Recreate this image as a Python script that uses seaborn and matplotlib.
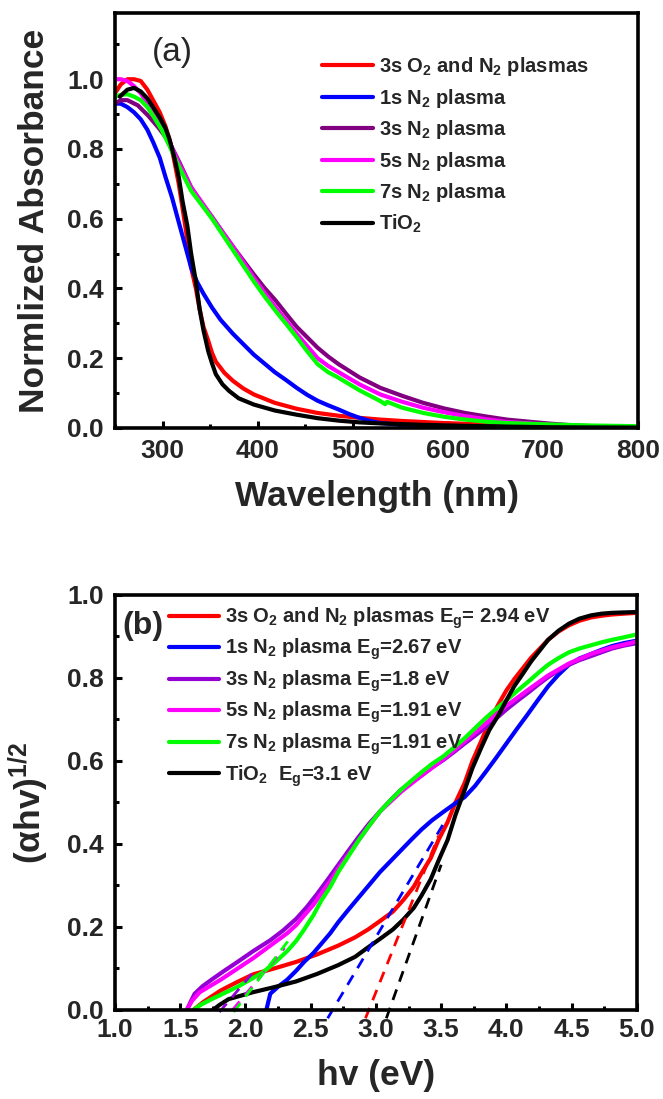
import numpy as np
import pandas as pd
import matplotlib
matplotlib.use("Agg")
import matplotlib.pyplot as plt
from matplotlib.ticker import MultipleLocator, FormatStrFormatter
import seaborn as sns

# ---------------- data: panel (a) ----------------
labels_a = ["3s O$_2$ and N$_2$ plasmas", "1s N$_2$ plasma", "3s N$_2$ plasma",
            "5s N$_2$ plasma", "7s N$_2$ plasma", "TiO$_2$"]
colors_a = ["#FF0000", "#0000FF", "#800080", "#FF00FF", "#00FF00", "#000000"]

red_a_x = [250, 256, 263, 270, 277, 284, 290, 297, 303, 308, 312, 317, 321, 326, 330, 335, 339, 343, 348, 352, 356, 365, 374, 385, 396, 418, 441, 463, 485, 507, 529, 552, 574, 596, 618, 640, 662, 685, 707, 751, 795, 800]
red_a_y = [0.96, 0.985, 1.0, 1.0, 0.995, 0.97, 0.94, 0.905, 0.865, 0.82, 0.77, 0.70, 0.63, 0.54, 0.46, 0.40, 0.34, 0.29, 0.25, 0.215, 0.19, 0.158, 0.135, 0.113, 0.096, 0.072, 0.055, 0.043, 0.035, 0.029, 0.024, 0.020, 0.017, 0.014, 0.012, 0.010, 0.008, 0.006, 0.005, 0.003, 0.002, 0.002]

blue_a_x = [250, 256, 263, 270, 277, 284, 290, 297, 303, 310, 316, 323, 330, 336, 343, 352, 361, 374, 385, 396, 407, 418, 430, 441, 452, 463, 474, 485, 496, 507, 518, 529, 552, 574, 596, 618, 662, 707, 751, 800]
blue_a_y = [0.93, 0.93, 0.92, 0.905, 0.885, 0.855, 0.82, 0.775, 0.72, 0.66, 0.60, 0.53, 0.46, 0.42, 0.385, 0.345, 0.31, 0.27, 0.24, 0.21, 0.185, 0.16, 0.137, 0.115, 0.095, 0.078, 0.065, 0.053, 0.04, 0.029, 0.02, 0.014, 0.009, 0.007, 0.005, 0.004, 0.003, 0.002, 0.001, 0.001]

purple_a_x = [250, 256, 263, 274, 285, 296, 307, 318, 330, 341, 352, 363, 374, 385, 396, 407, 419, 430, 441, 452, 463, 474, 485, 507, 529, 552, 574, 596, 618, 640, 662, 685, 707, 729, 751, 773, 795, 800]
purple_a_y = [0.93, 0.94, 0.94, 0.925, 0.895, 0.86, 0.82, 0.76, 0.69, 0.645, 0.605, 0.562, 0.52, 0.48, 0.44, 0.402, 0.365, 0.327, 0.29, 0.26, 0.23, 0.205, 0.183, 0.145, 0.115, 0.092, 0.072, 0.056, 0.043, 0.033, 0.024, 0.018, 0.0125, 0.008, 0.005, 0.003, 0.001, 0.001]

magenta_a_x = [250, 256, 263, 270, 277, 284, 290, 299, 307, 318, 330, 341, 352, 363, 374, 385, 396, 407, 419, 430, 441, 452, 463, 474, 485, 507, 529, 552, 574, 596, 618, 640, 662, 707, 751, 800]
magenta_a_y = [1.0, 1.0, 0.995, 0.98, 0.96, 0.93, 0.90, 0.86, 0.82, 0.755, 0.69, 0.648, 0.605, 0.562, 0.52, 0.475, 0.43, 0.388, 0.345, 0.308, 0.27, 0.235, 0.20, 0.178, 0.16, 0.125, 0.096, 0.075, 0.058, 0.045, 0.034, 0.025, 0.017, 0.009, 0.004, 0.002]

green_a_x = [250, 256, 263, 270, 277, 284, 290, 299, 307, 318, 330, 341, 352, 363, 374, 385, 396, 407, 419, 430, 441, 452, 463, 474, 485, 507, 529, 534, 536, 552, 574, 596, 618, 640, 662, 707, 751, 800]
green_a_y = [0.95, 0.955, 0.957, 0.95, 0.94, 0.92, 0.895, 0.855, 0.81, 0.745, 0.68, 0.64, 0.60, 0.555, 0.51, 0.465, 0.42, 0.378, 0.335, 0.298, 0.26, 0.22, 0.183, 0.16, 0.144, 0.108, 0.077, 0.068, 0.075, 0.058, 0.043, 0.032, 0.024, 0.018, 0.014, 0.010, 0.007, 0.005]

black_a_x = [255, 263, 270, 277, 284, 290, 297, 303, 307, 312, 317, 321, 326, 330, 335, 339, 343, 348, 352, 356, 363, 370, 380, 396, 418, 441, 463, 485, 507, 529, 552, 574, 618, 662, 707, 800]
black_a_y = [0.95, 0.97, 0.975, 0.965, 0.945, 0.92, 0.89, 0.86, 0.83, 0.78, 0.72, 0.65, 0.58, 0.50, 0.42, 0.34, 0.28, 0.22, 0.185, 0.154, 0.125, 0.106, 0.085, 0.067, 0.05, 0.038, 0.028, 0.021, 0.016, 0.013, 0.011, 0.009, 0.006, 0.004, 0.002, 0.001]

series_a = [(red_a_x, red_a_y), (blue_a_x, blue_a_y), (purple_a_x, purple_a_y),
            (magenta_a_x, magenta_a_y), (green_a_x, green_a_y), (black_a_x, black_a_y)]

# ---------------- data: panel (b) ----------------
labels_b = ["3s O$_2$ and N$_2$ plasmas E$_g$= 2.94 eV", "1s N$_2$ plasma E$_g$=2.67 eV",
            "3s N$_2$ plasma E$_g$=1.8 eV", "5s N$_2$ plasma E$_g$=1.91 eV",
            "7s N$_2$ plasma E$_g$=1.91 eV", "TiO$_2$  E$_g$=3.1 eV"]
colors_b = ["#FF0000", "#0000FF", "#9400D3", "#FF00FF", "#00FF00", "#000000"]

red_b_x = [1.60, 1.68, 1.81, 1.94, 2.06, 2.22, 2.39, 2.55, 2.71, 2.84, 2.94, 3.03, 3.13, 3.21, 3.29, 3.35, 3.42, 3.48, 3.55, 3.61, 3.68, 3.74, 3.81, 3.87, 3.94, 4.00, 4.06, 4.13, 4.19, 4.26, 4.32, 4.40, 4.48, 4.56, 4.65, 4.73, 4.81, 4.90, 5.00]
red_b_y = [0.0, 0.02, 0.047, 0.068, 0.086, 0.10, 0.116, 0.134, 0.155, 0.175, 0.194, 0.214, 0.237, 0.265, 0.297, 0.33, 0.366, 0.41, 0.453, 0.50, 0.547, 0.60, 0.65, 0.695, 0.737, 0.77, 0.797, 0.825, 0.849, 0.872, 0.892, 0.912, 0.927, 0.938, 0.946, 0.95, 0.953, 0.955, 0.957]

blue_b_x = [2.16, 2.19, 2.25, 2.32, 2.39, 2.45, 2.52, 2.58, 2.65, 2.71, 2.79, 2.87, 2.95, 3.03, 3.11, 3.19, 3.27, 3.35, 3.43, 3.52, 3.60, 3.68, 3.76, 3.84, 3.92, 4.00, 4.08, 4.16, 4.24, 4.32, 4.40, 4.48, 4.56, 4.65, 4.73, 4.81, 4.90, 5.00]
blue_b_y = [0.0, 0.039, 0.056, 0.073, 0.095, 0.116, 0.137, 0.159, 0.185, 0.211, 0.242, 0.272, 0.302, 0.332, 0.358, 0.384, 0.41, 0.435, 0.457, 0.478, 0.496, 0.513, 0.54, 0.573, 0.607, 0.642, 0.677, 0.711, 0.746, 0.78, 0.808, 0.832, 0.847, 0.858, 0.868, 0.877, 0.884, 0.89]

purple_b_x = [1.55, 1.58, 1.61, 1.67, 1.74, 1.84, 1.94, 2.06, 2.19, 2.29, 2.39, 2.47, 2.55, 2.63, 2.71, 2.79, 2.87, 2.95, 3.03, 3.11, 3.19, 3.27, 3.35, 3.43, 3.52, 3.60, 3.68, 3.76, 3.84, 3.92, 4.00, 4.08, 4.16, 4.24, 4.32, 4.40, 4.48, 4.56, 4.65, 4.73, 4.81, 4.90, 5.00]
purple_b_y = [0.0, 0.02, 0.039, 0.057, 0.073, 0.095, 0.116, 0.142, 0.168, 0.192, 0.22, 0.248, 0.28, 0.314, 0.349, 0.384, 0.418, 0.45, 0.478, 0.505, 0.53, 0.548, 0.565, 0.584, 0.603, 0.622, 0.642, 0.661, 0.681, 0.702, 0.724, 0.744, 0.763, 0.783, 0.802, 0.818, 0.832, 0.843, 0.853, 0.862, 0.871, 0.878, 0.884]

magenta_b_x = [1.55, 1.59, 1.65, 1.73, 1.81, 1.94, 2.06, 2.19, 2.32, 2.39, 2.45, 2.52, 2.58, 2.65, 2.71, 2.79, 2.87, 2.95, 3.03, 3.19, 3.35, 3.52, 3.68, 3.84, 4.00, 4.16, 4.32, 4.48, 4.65, 4.81, 5.00]
magenta_b_y = [0.0, 0.022, 0.043, 0.058, 0.073, 0.10, 0.125, 0.155, 0.185, 0.205, 0.228, 0.253, 0.28, 0.31, 0.34, 0.375, 0.41, 0.445, 0.478, 0.525, 0.565, 0.605, 0.647, 0.69, 0.733, 0.77, 0.806, 0.835, 0.858, 0.874, 0.888]

green_b_x = [1.60, 1.66, 1.74, 1.84, 1.94, 2.03, 2.13, 2.22, 2.32, 2.39, 2.45, 2.52, 2.58, 2.65, 2.71, 2.79, 2.87, 2.95, 3.03, 3.11, 3.19, 3.27, 3.35, 3.43, 3.52, 3.60, 3.68, 3.76, 3.84, 3.92, 4.00, 4.08, 4.16, 4.24, 4.32, 4.40, 4.48, 4.56, 4.65, 4.73, 4.81, 4.90, 5.00]
green_b_y = [0.0, 0.013, 0.026, 0.041, 0.056, 0.072, 0.09, 0.113, 0.142, 0.167, 0.194, 0.228, 0.263, 0.297, 0.332, 0.371, 0.41, 0.445, 0.478, 0.505, 0.53, 0.552, 0.573, 0.593, 0.612, 0.633, 0.655, 0.679, 0.703, 0.725, 0.746, 0.768, 0.789, 0.811, 0.832, 0.848, 0.862, 0.871, 0.879, 0.886, 0.892, 0.898, 0.905]

black_b_x = [1.75, 1.80, 1.87, 1.97, 2.06, 2.22, 2.39, 2.55, 2.71, 2.84, 2.94, 3.03, 3.13, 3.21, 3.29, 3.35, 3.42, 3.48, 3.55, 3.61, 3.68, 3.74, 3.81, 3.87, 3.94, 4.00, 4.06, 4.13, 4.19, 4.26, 4.32, 4.40, 4.48, 4.56, 4.65, 4.73, 4.81, 4.90, 5.00]
black_b_y = [0.0, 0.012, 0.026, 0.035, 0.043, 0.055, 0.069, 0.087, 0.108, 0.128, 0.151, 0.171, 0.194, 0.218, 0.246, 0.276, 0.315, 0.36, 0.41, 0.47, 0.53, 0.583, 0.634, 0.675, 0.711, 0.746, 0.78, 0.812, 0.84, 0.868, 0.892, 0.914, 0.931, 0.943, 0.951, 0.955, 0.957, 0.958, 0.959]

series_b = [(red_b_x, red_b_y), (blue_b_x, blue_b_y), (purple_b_x, purple_b_y),
            (magenta_b_x, magenta_b_y), (green_b_x, green_b_y), (black_b_x, black_b_y)]

# Tauc-fit tangent lines (start/end points), panel (b)
fit_colors = ["#FF0000", "#0000FF", "#9400D3", "#FF00FF", "#00FF00", "#000000"]
fit_x0 = [2.92, 2.63, 1.80, 1.90, 1.91, 3.08]
fit_y0 = [-0.02, -0.02, -0.005, 0.0, -0.005, -0.02]
fit_x1 = [3.48, 3.52, 2.07, 2.30, 2.36, 3.50]
fit_y1 = [0.42, 0.45, 0.095, 0.15, 0.18, 0.35]

# ---------------- style ----------------
sns.set_theme(style="ticks")
plt.rcParams["font.family"] = ["Liberation Sans", "DejaVu Sans"]
plt.rcParams["font.weight"] = "bold"
plt.rcParams["mathtext.fontset"] = "custom"
plt.rcParams["mathtext.rm"] = "Liberation Sans:bold"
plt.rcParams["mathtext.bf"] = "Liberation Sans:bold"
plt.rcParams["mathtext.it"] = "Liberation Sans:bold"
plt.rcParams["mathtext.default"] = "bf"

fig = plt.figure(figsize=(6.63, 10.99), dpi=100)
ax_a = fig.add_axes([0.1735, 0.6106, 0.789, 0.3776])
ax_b = fig.add_axes([0.1735, 0.0810, 0.787, 0.3776])


def style_axes(ax):
    for s in ax.spines.values():
        s.set_linewidth(2.6)
        s.set_color("black")
        s.set_visible(True)
    ax.tick_params(which="both", direction="in", width=2.2, color="black",
                   top=False, right=False, labelsize=19, pad=8)
    ax.tick_params(which="major", length=5)
    ax.tick_params(which="minor", length=3)
    for lbl in ax.get_xticklabels() + ax.get_yticklabels():
        lbl.set_fontweight("bold")


LEG_FS = 14.5

# ---- panel (a)
for (x, y), lab, col in zip(series_a, labels_a, colors_a):
    df = pd.DataFrame({"x": x, "y": y})
    sns.lineplot(data=df, x="x", y="y", ax=ax_a, color=col, lw=3, label=lab,
                 estimator=None, sort=False)
ax_a.set_xlim(250, 800)
ax_a.set_ylim(0, 1.19)
ax_a.xaxis.set_major_locator(MultipleLocator(100))
ax_a.xaxis.set_minor_locator(MultipleLocator(50))
ax_a.yaxis.set_major_locator(MultipleLocator(0.2))
ax_a.yaxis.set_minor_locator(MultipleLocator(0.1))
ax_a.yaxis.set_major_formatter(FormatStrFormatter("%.1f"))
ax_a.set_yticks([0.0, 0.2, 0.4, 0.6, 0.8, 1.0])
style_axes(ax_a)
ax_a.tick_params(axis="x", pad=8)
ax_a.set_xlabel("Wavelength (nm)", fontsize=25.5, fontweight="bold", labelpad=12)
ax_a.set_ylabel("Normlized Absorbance", fontsize=25.5, fontweight="bold", labelpad=12)
ax_a.text(0.07, 0.905, "(a)", transform=ax_a.transAxes, fontsize=24,
          fontweight="normal", va="center", ha="left")
leg_a = ax_a.legend(loc="upper left", bbox_to_anchor=(0.396, 0.898), frameon=False,
                    fontsize=LEG_FS, handlelength=2.5, handletextpad=0.3,
                    labelspacing=0.42, borderpad=0, borderaxespad=0)
for t in leg_a.get_texts():
    t.set_fontweight("bold")

# ---- panel (b)
for (x, y), lab, col in zip(series_b, labels_b, colors_b):
    df = pd.DataFrame({"x": x, "y": y})
    sns.lineplot(data=df, x="x", y="y", ax=ax_b, color=col, lw=3, label=lab,
                 estimator=None, sort=False)
for c, x0, y0, x1, y1 in zip(fit_colors, fit_x0, fit_y0, fit_x1, fit_y1):
    ax_b.plot([x0, x1], [y0, y1], color=c, lw=2, ls=(0, (4, 3)), clip_on=False)
ax_b.set_xlim(1.0, 5.0)
ax_b.set_ylim(0, 1.0)
ax_b.xaxis.set_major_locator(MultipleLocator(0.5))
ax_b.xaxis.set_minor_locator(MultipleLocator(0.25))
ax_b.yaxis.set_major_locator(MultipleLocator(0.2))
ax_b.yaxis.set_minor_locator(MultipleLocator(0.1))
ax_b.xaxis.set_major_formatter(FormatStrFormatter("%.1f"))
ax_b.yaxis.set_major_formatter(FormatStrFormatter("%.1f"))
style_axes(ax_b)
ax_b.tick_params(axis="x", pad=6)
ax_b.set_xlabel("hv (eV)", fontsize=25.5, fontweight="bold", labelpad=12)
ax_b.set_ylabel("(αhv)$^{1/2}$", fontsize=25.5, fontweight="bold", labelpad=12)
ax_b.text(0.015, 0.925, "(b)", transform=ax_b.transAxes, fontsize=23,
          fontweight="bold", va="center", ha="left")
leg_b = ax_b.legend(loc="upper left", bbox_to_anchor=(0.103, 0.975), frameon=False,
                    fontsize=LEG_FS, handlelength=2.5, handletextpad=0.3,
                    labelspacing=0.3, borderpad=0, borderaxespad=0)
for t in leg_b.get_texts():
    t.set_fontweight("bold")

fig.savefig("out.png", dpi=100)
